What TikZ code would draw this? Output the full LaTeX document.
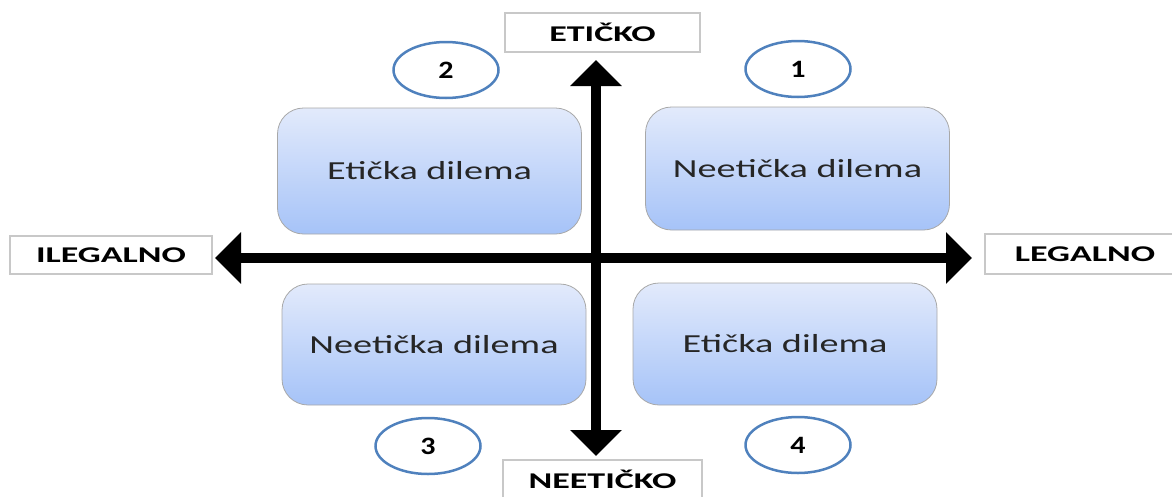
\documentclass[tikz,border=0pt]{standalone}
\usepackage{fontspec}
\setmainfont{Carlito}
\newfontfamily\boxfont[FakeStretch=1.47]{Carlito}
\newfontfamily\labfont[FakeStretch=1.6]{Carlito}
\newfontfamily\numfont[FakeStretch=1.2]{Carlito}
\usetikzlibrary{arrows.meta,shapes.geometric}
\definecolor{numblue}{HTML}{4F81BD}
\definecolor{boxtop}{HTML}{E2EAFB}
\definecolor{boxbot}{HTML}{A6C3F8}
\definecolor{boxedge}{HTML}{A8A8A8}
\definecolor{labedge}{HTML}{C8C8C8}
\tikzset{
  lab/.style={draw=labedge, fill=white, line width=1.2pt, inner sep=0pt,
    font=\labfont\bfseries\fontsize{22.5}{22.5}\selectfont, text=black},
  dil/.style={draw=boxedge, line width=0.8pt, rounded corners=26pt,
    top color=boxtop, bottom color=boxbot, inner sep=0pt,
    minimum width=304pt, minimum height=123pt,
    font=\boxfont\fontsize{26}{26}\selectfont, text=black!85},
  num/.style={ellipse, draw=numblue, line width=2.5pt, fill=white,
    minimum width=105pt, minimum height=56pt, inner sep=0pt,
    font=\numfont\bfseries\fontsize{25}{25}\selectfont, text=black},
  axis/.style={line width=10pt,
    {Triangle[width=50pt,length=26pt]}-{Triangle[width=50pt,length=26pt]}}
}
\begin{document}
\begin{tikzpicture}[x=1pt,y=-1pt]
\useasboundingbox (0,0) rectangle (1172,496);
% labels
\node[lab, minimum width=195pt, minimum height=39pt] (et) at (602.5,32.5) {ETIČKO};
\node[lab, minimum width=202pt, minimum height=38pt] (il) at (111,255) {ILEGALNO};
\node[lab, minimum width=200pt, minimum height=40pt] (le) at (1085,254) {LEGALNO};
\node[lab, minimum width=199pt, minimum height=38pt] (ne) at (602.5,479) {NEETIČKO};
% quadrant boxes
\node[dil, minimum height=126pt] (tl) at (429.5,171) {Etička dilema};
\node[dil] (tr) at (797.5,168.5) {Neetička dilema};
\node[dil, minimum height=121pt] (bl) at (434,344.5) {Neetička dilema};
\node[dil, minimum height=122pt] (br) at (785,344) {Etička dilema};
% numbers
\node[num] (n2) at (446,70) {2};
\node[num] (n1) at (798,69) {1};
\node[num] (n3) at (428,446) {3};
\node[num] (n4) at (798,445) {4};
% axes
\coordinate (vt) at (596,60);
\coordinate (vb) at (596,456);
\coordinate (hl) at (215,258);
\coordinate (hr) at (972,258);
\draw[axis] (vb) -- (vt);
\draw[axis] (hl) -- (hr);
\end{tikzpicture}
\end{document}
